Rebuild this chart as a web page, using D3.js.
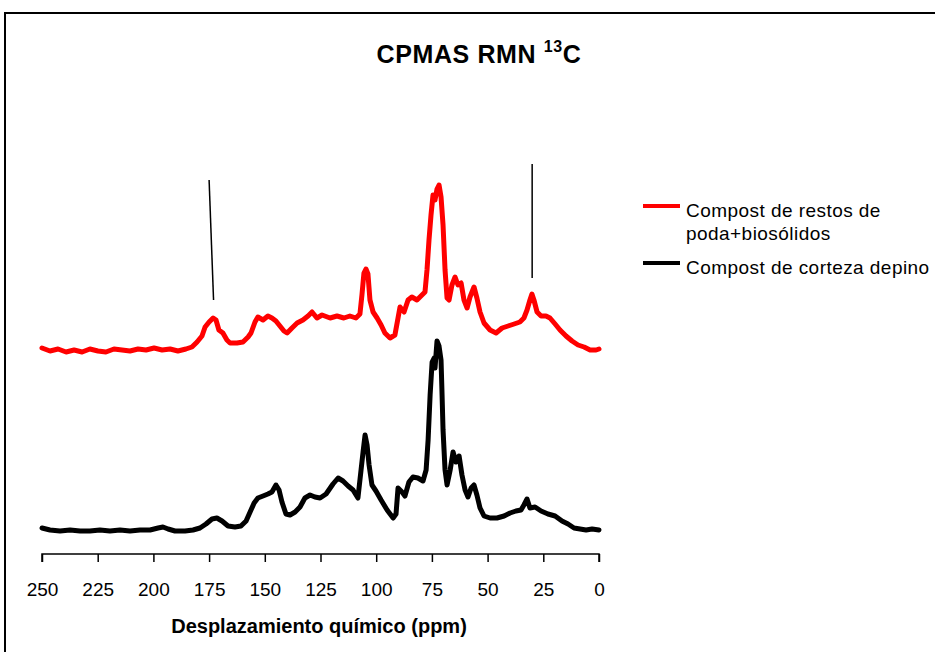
<!DOCTYPE html>
<html>
<head>
<meta charset="utf-8">
<script src="https://cdn.jsdelivr.net/npm/d3@7"></script>
<style>
  body { margin: 0; background: #fff; }
  svg { display: block; font-family: Arial, "Liberation Sans", sans-serif; }
</style>
</head>
<body>
<svg id="chart" width="935" height="652"></svg>
<script>
// ppm, intensidad (unidades arbitrarias, espectros desplazados)
const ppmRojo = [250, 246.4, 242.8, 239.2, 235.6, 232.0, 228.5, 224.9, 221.3, 217.7, 214.1, 210.5, 206.9, 203.3, 199.7, 196.1, 192.5, 189.0, 185.4, 182.7, 180.4, 178.2, 176.8, 175.0, 173.2, 171.9, 170.6, 168.8, 167.0, 165.6, 162.5, 159.8, 157.5, 156.2, 154.4, 153.1, 150.8, 148.6, 146.8, 145.0, 143.2, 141.4, 140.0, 137.8, 135.5, 132.9, 130.6, 128.8, 126.6, 124.3, 120.7, 117.6, 114.5, 111.8, 109.1, 107.3, 106.4, 105.5, 104.6, 103.7, 102.8, 101.4, 99.6, 97.8, 96.1, 93.8, 91.6, 90.2, 89.3, 87.5, 85.7, 84.0, 81.7, 79.9, 78.1, 77.2, 76.3, 75.4, 74.5, 73.6, 72.7, 71.8, 70.9, 70.0, 69.1, 68.2, 67.3, 66.0, 64.6, 63.3, 61.9, 60.6, 59.2, 57.9, 56.1, 54.8, 53.4, 51.6, 48.9, 46.2, 43.5, 40.8, 38.1, 35.5, 33.7, 32.3, 31.0, 30.1, 29.2, 27.8, 26.0, 23.8, 22.0, 19.7, 17.5, 14.8, 12.1, 9.4, 6.7, 4.0, 1.3, 0];
const intRojo = [202, 199, 201, 198, 200, 198, 201, 199, 198, 201, 200, 199, 201, 200, 202, 200, 201, 199, 201, 203, 208, 214, 223, 228, 232, 230, 220, 217, 210, 207, 207, 208, 213, 217, 228, 233, 230, 234, 232, 229, 224, 219, 217, 222, 227, 230, 234, 238, 232, 235, 232, 234, 232, 234, 232, 236, 255, 277, 281, 276, 250, 238, 232, 225, 217, 212, 215, 232, 243, 238, 250, 253, 250, 254, 258, 280, 310, 335, 355, 350, 361, 365, 353, 325, 280, 252, 250, 265, 273, 265, 267, 250, 242, 253, 263, 252, 238, 227, 220, 217, 222, 224, 226, 228, 232, 240, 250, 256, 250, 238, 234, 234, 232, 226, 220, 214, 209, 205, 203, 200, 200, 201];

const ppmNegro = [250, 246.4, 241.9, 237.4, 232.9, 228.5, 224.0, 219.5, 215.0, 210.5, 206.0, 201.5, 197.9, 195.7, 193.4, 190.3, 185.8, 182.2, 179.1, 176.4, 173.7, 171.5, 169.2, 166.5, 163.4, 160.7, 158.4, 156.6, 154.8, 153.1, 150.8, 148.6, 146.8, 145.0, 143.6, 142.3, 140.5, 138.7, 136.4, 134.2, 132.0, 129.7, 127.5, 125.2, 122.5, 119.4, 117.1, 114.9, 112.6, 110.4, 108.2, 106.8, 105.9, 105.0, 104.1, 103.2, 101.9, 100.1, 97.8, 95.1, 92.4, 91.1, 90.2, 88.4, 87.1, 85.3, 83.5, 81.3, 79.0, 77.6, 76.7, 75.8, 74.9, 74.0, 73.6, 72.7, 71.8, 70.9, 70.5, 70.0, 69.1, 68.2, 66.8, 65.5, 64.2, 62.8, 61.5, 60.1, 58.8, 57.4, 56.1, 54.8, 53.4, 51.6, 48.9, 45.8, 42.6, 39.9, 37.3, 35.0, 33.7, 32.3, 31.0, 28.7, 26.0, 22.9, 19.7, 16.6, 13.9, 11.2, 8.5, 5.8, 3.1, 0];
const intNegro = [22, 20, 19, 20, 19, 19, 20, 19, 20, 19, 20, 20, 22, 23, 21, 19, 19, 20, 22, 26, 31, 32, 29, 24, 23, 24, 29, 38, 47, 52, 54, 56, 58, 65, 60, 48, 36, 35, 38, 43, 52, 55, 53, 52, 56, 66, 72, 69, 64, 60, 52, 80, 98, 115, 105, 85, 65, 59, 50, 40, 32, 36, 62, 58, 54, 68, 73, 72, 69, 80, 110, 155, 188, 192, 182, 209, 204, 190, 160, 120, 80, 65, 80, 98, 88, 94, 75, 60, 53, 62, 65, 55, 42, 34, 32, 32, 34, 37, 39, 40, 45, 51, 42, 43, 39, 36, 34, 29, 26, 22, 21, 20, 21, 20];

const ticksX = [250, 225, 200, 175, 150, 125, 100, 75, 50, 25, 0];
const series = [
  { nombre: ["Compost de restos de", "poda+biosólidos"], color: "#ff0000", ppm: ppmRojo, val: intRojo },
  { nombre: ["Compost de corteza depino"], color: "#000000", ppm: ppmNegro, val: intNegro }
];
// marcas de señal (ppm)
const marcas = [{ p0: 175, p1: 173, i0: 370, i1: 250 }, { p0: 30, p1: 30, i0: 386, i1: 272 }];

const svg = d3.select("#chart");

// marco exterior
svg.append("rect")
  .attr("x", 5).attr("y", 13)
  .attr("width", 960).attr("height", 680)
  .attr("fill", "none").attr("stroke", "#000").attr("stroke-width", 2);

const x = d3.scaleLinear().domain([250, 0]).range([42, 599]);
const y = d3.scaleLinear().domain([0, 400]).range([550, 150]);

const xAxis = d3.axisBottom(x).tickValues(ticksX).tickSize(8).tickPadding(21).tickFormat(d3.format("d"));
const gx = svg.append("g").attr("transform", "translate(0,554)").call(xAxis);
gx.select(".domain").attr("stroke-width", 1.5).attr("d", "M42,8V0H599V8");
gx.selectAll(".tick line").attr("stroke-width", 1.5);
gx.selectAll(".tick text").attr("font-size", 19).attr("fill", "#000").attr("font-family", "Arial, 'Liberation Sans', sans-serif");

svg.append("text")
  .attr("x", 319).attr("y", 633)
  .attr("text-anchor", "middle")
  .attr("font-size", 20).attr("font-weight", "bold")
  .text("Desplazamiento químico (ppm)");

// título
const t = svg.append("text")
  .attr("x", 479).attr("y", 63)
  .attr("text-anchor", "middle")
  .attr("font-size", 25).attr("font-weight", "bold")
  .attr("letter-spacing", 0.6);
t.append("tspan").text("CPMAS RMN ");
t.append("tspan").attr("font-size", 16).attr("dy", -11).text("13");
t.append("tspan").attr("dy", 11).text("C");

const line = d3.line().x(d => x(d[0])).y(d => y(d[1]));

series.forEach(s => {
  const pts = s.ppm.map((p, i) => [p, s.val[i]]);
  svg.append("path")
    .datum(pts)
    .attr("fill", "none")
    .attr("stroke", s.color)
    .attr("stroke-width", 5)
    .attr("stroke-linejoin", "round")
    .attr("stroke-linecap", "round")
    .attr("d", line);
});

// líneas de asignación
marcas.forEach(m => {
  svg.append("line")
    .attr("x1", x(m.p0)).attr("y1", y(m.i0))
    .attr("x2", x(m.p1)).attr("y2", y(m.i1))
    .attr("stroke", "#000").attr("stroke-width", 1.5);
});

// leyenda
const leg = svg.append("g");
let ly = 206;
series.forEach(s => {
  leg.append("line")
    .attr("x1", 643).attr("x2", 680)
    .attr("y1", ly).attr("y2", ly)
    .attr("stroke", s.color).attr("stroke-width", 4);
  s.nombre.forEach((n, i) => {
    leg.append("text")
      .attr("x", 686).attr("y", ly + 11 + i * 23)
      .attr("font-size", 19)
      .attr("letter-spacing", 0.45)
      .text(n);
  });
  ly += 57;
});
</script>
</body>
</html>
